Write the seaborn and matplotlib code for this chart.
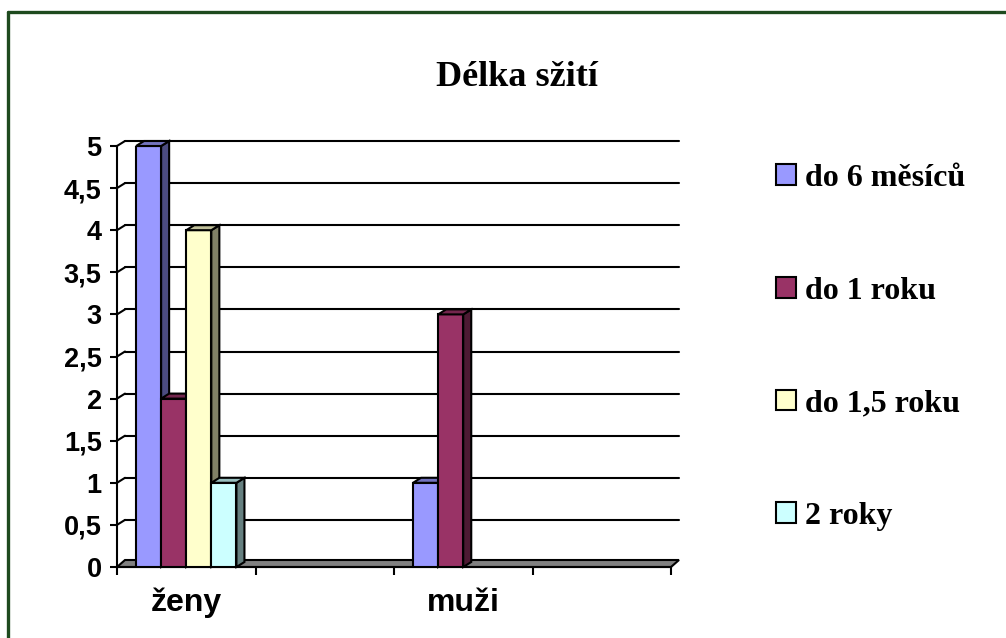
import matplotlib
matplotlib.use("Agg")
import matplotlib.pyplot as plt
import seaborn as sns
import pandas as pd
from matplotlib.patches import Polygon, Patch
from matplotlib.lines import Line2D
from matplotlib.font_manager import FontProperties


# -----------------------------
# DATA
# -----------------------------
CATEGORIES = ["ženy", "muži"]
SERIES = ["do 6 měsíců", "do 1 roku", "do 1,5 roku", "2 roky"]
VALUES_ZENY = [5, 2, 4, 1]
VALUES_MUZI = [1, 3, 0, 0]

# the original chart leaves an empty slot after each group
SLOT_ORDER = ["ženy", " ", "muži", "  "]

Y_TICKS = [0, 0.5, 1, 1.5, 2, 2.5, 3, 3.5, 4, 4.5, 5]
Y_TICK_LABELS = ["0", "0,5", "1", "1,5", "2", "2,5", "3", "3,5", "4", "4,5", "5"]


# -----------------------------
# STYLE
# -----------------------------
FRONT_COLORS = ["#9999FF", "#993366", "#FFFFCC", "#CCFFFF"]
SIDE_COLORS = ["#4C4C80", "#4D1A33", "#808066", "#668080"]
TOP_COLORS = ["#7373BF", "#73264D", "#BFBF99", "#99BFBF"]
BORDER_COLOR = "#1E4A1E"

DX = 8 / 138.5   # 3d depth in x units
DY = 5 / 84.2    # 3d depth in y units

sns.set_style("white")
plt.rcParams["font.family"] = ["Liberation Sans", "DejaVu Sans"]
plt.rcParams["font.weight"] = "bold"
plt.rcParams["text.color"] = "black"
plt.rcParams["xtick.labelcolor"] = "black"
plt.rcParams["ytick.labelcolor"] = "black"


def main() -> None:
    rows = []
    for cat, vals in zip(CATEGORIES, [VALUES_ZENY, VALUES_MUZI]):
        for ser, v in zip(SERIES, vals):
            rows.append({"skupina": cat, "délka": ser, "počet": v})
    df = pd.DataFrame(rows)

    fig = plt.figure(figsize=(10.06, 6.38), dpi=100)
    ax = fig.add_axes([117 / 1006, 71 / 638, 554 / 1006, 421 / 638])
    ax.set_facecolor("none")

    sns.barplot(
        data=df, x="skupina", y="počet", hue="délka",
        order=SLOT_ORDER, hue_order=SERIES, palette=FRONT_COLORS,
        saturation=1, width=0.725, edgecolor="black", linewidth=1.5,
        ax=ax, legend=False
    )

    ax.set_xlim(-0.5, 3.5)
    ax.set_ylim(0, 5)

    # 3d faces for each bar
    bars = []
    for container, side_c, top_c in zip(ax.containers, SIDE_COLORS, TOP_COLORS):
        for bar in container:
            bars.append((bar, side_c, top_c))
    bars.sort(key=lambda b: b[0].get_x())

    for k, (bar, side_c, top_c) in enumerate(bars):
        h = bar.get_height()
        if h <= 0:
            bar.set_visible(False)
            continue
        x, w = bar.get_x(), bar.get_width()
        bar.set_zorder(10 + 2 * k)
        side = Polygon(
            [(x + w, 0), (x + w + DX, DY), (x + w + DX, h + DY), (x + w, h)],
            closed=True, facecolor=side_c, edgecolor="black", lw=1.5,
            zorder=11 + 2 * k, clip_on=False
        )
        top = Polygon(
            [(x, h), (x + w, h), (x + w + DX, h + DY), (x + DX, h + DY)],
            closed=True, facecolor=top_c, edgecolor="black", lw=1.5,
            zorder=11 + 2 * k, clip_on=False
        )
        ax.add_patch(side)
        ax.add_patch(top)

    # back wall grid lines and left wall connectors
    x0, x1 = ax.get_xlim()
    for v in Y_TICKS[1:]:
        ax.plot([x0 + DX, x1 + DX], [v + DY, v + DY], color="black",
                lw=1.5, zorder=1, clip_on=False)
        ax.plot([x0, x0 + DX], [v, v + DY], color="black",
                lw=1.5, zorder=1, clip_on=False)

    # floor
    floor = Polygon(
        [(x0, 0), (x1, 0), (x1 + DX, DY * 1.4), (x0 + DX, DY * 1.4)],
        closed=True, facecolor="#808080", edgecolor="black", lw=1.5,
        zorder=2, clip_on=False
    )
    ax.add_patch(floor)

    # axes
    for s in ["top", "right"]:
        ax.spines[s].set_visible(False)
    for s in ["left", "bottom"]:
        ax.spines[s].set_linewidth(1.5)
        ax.spines[s].set_color("black")
        ax.spines[s].set_zorder(5)

    ax.set_yticks(Y_TICKS, Y_TICK_LABELS)
    ax.tick_params(axis="y", length=5, width=1.5, pad=6, labelsize=19.5,
                   colors="black", left=True)

    ax.set_xticks([-0.5, 0.5, 1.5, 2.5, 3.5], [""] * 5)
    ax.set_xticks([0, 2], CATEGORIES, minor=True)
    ax.tick_params(axis="x", which="major", length=6, width=1.5,
                   direction="out", bottom=True, colors="black")
    ax.tick_params(axis="x", which="minor", length=0, pad=15, labelsize=23,
                   colors="black")
    ax.set_xlabel("")
    ax.set_ylabel("")

    # title
    fig.text(517 / 1006, (638 - 77) / 638, "Délka sžití",
             ha="center", va="center", fontsize=26, fontweight="bold",
             color="black", family=["Liberation Serif", "DejaVu Serif"])

    # legend
    handles = [Patch(facecolor=c, edgecolor="black", linewidth=1.5)
               for c in FRONT_COLORS]
    leg = fig.legend(
        handles, SERIES, loc="upper left",
        bbox_to_anchor=(776 / 1006, (638 - 164) / 638),
        bbox_transform=fig.transFigure, frameon=False,
        prop=FontProperties(family="Liberation Serif", weight="bold", size=23),
        handlelength=0.62, handleheight=0.62, handletextpad=0.28,
        labelspacing=2.62, borderpad=0, borderaxespad=0
    )
    for t in leg.get_texts():
        t.set_color("black")

    # chart border (cut at right and bottom)
    fig.add_artist(Line2D([8 / 1006, 8 / 1006], [0, (638 - 12) / 638],
                          color=BORDER_COLOR, lw=2.4))
    fig.add_artist(Line2D([8 / 1006, 1], [(638 - 12) / 638] * 2,
                          color=BORDER_COLOR, lw=2.4))

    fig.savefig("out.png", dpi=100)
    plt.close(fig)


if __name__ == "__main__":
    main()
